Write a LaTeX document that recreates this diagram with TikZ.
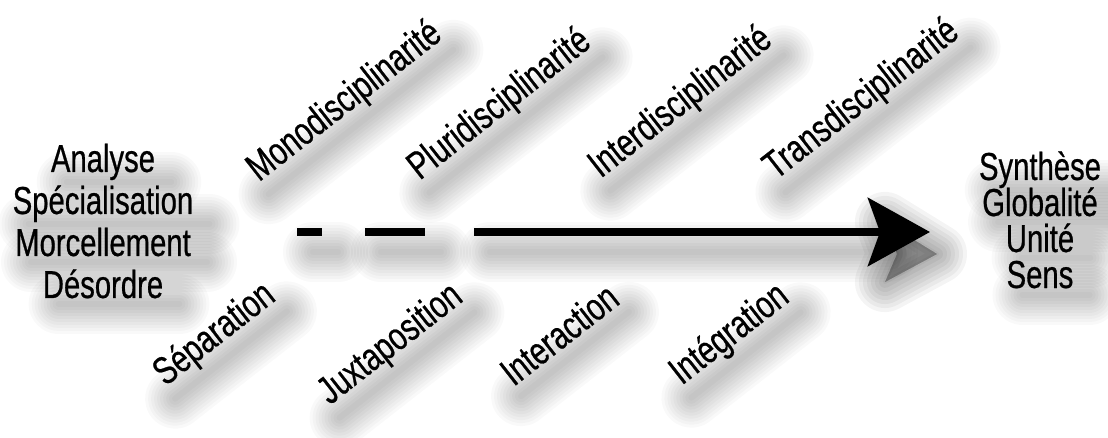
\documentclass[tikz,border=0pt]{standalone}
\usepackage{fontspec}
\setmainfont[FakeStretch=0.75,FakeBold=0.6]{Liberation Sans}
\usetikzlibrary{positioning,arrows.meta,backgrounds}

\tikzset{
  word/.style={inner sep=0pt, font=\fontsize{39}{42}\selectfont},
  tilted/.style={word, rotate=38},
  row/.style={word, anchor=base},
  soft/.style={draw=black, draw opacity=0.022, line cap=round},
  bar/.style={line width=8pt}
}
\newcommand\halo[2]{%
  \foreach \w in {60,54,...,6}
    \draw[soft, line width=\w pt] ([shift={(16,20)}]#1) -- ([shift={(16,20)}]#2);}

\begin{document}
\begin{tikzpicture}[x=1pt,y=-1pt,node distance=42pt,on grid,>={Stealth[length=62pt,width=68pt,inset=12pt]}]
  \useasboundingbox (0,0) rectangle (1108,438);

  \node[row] (ana) at (103,172) {Analyse};
  \node (spe) [below=of ana.base,row] {Spécialisation};
  \node (mor) [below=of spe.base,row] {Morcellement};
  \node (des) [below=of mor.base,row] {Désordre};

  \node[row] (syn) at (1040,180) {Synthèse};
  \node (glo) [below=36pt of syn.base,row] {Globalité};
  \node (uni) [below=36pt of glo.base,row] {Unité};
  \node (sen) [below=36pt of uni.base,row] {Sens};

  \node[tilted] (mono) at (345,102) {Monodisciplinarité};
  \node[tilted] (pluri) at (500,105) {Pluridisciplinarité};
  \node[tilted] (inter) at (681,103) {Interdisciplinarité};
  \node[tilted] (trans) at (862,100) {Transdisciplinarité};

  \node[tilted] (sep) at (215,335) {Séparation};
  \node[tilted] (jux) at (391,345) {Juxtaposition};
  \node[tilted] (act) at (559,334) {Interaction};
  \node[tilted] (integ) at (730,335) {Intégration};

  \coordinate (d1a) at (297,232);
  \coordinate (d1b) at (322,232);
  \coordinate (d2a) at (365,232);
  \coordinate (d2b) at (425,232);
  \coordinate (start) at (474,232);
  \coordinate (neck) at (872,232);
  \coordinate (tip) at (930,232);

  \draw[bar] (d1a) -- (d1b);
  \draw[bar] (d2a) -- (d2b);
  \draw[bar,->] (start) -- (tip);

  \begin{scope}[on background layer]
    \fill[white] (0,0) rectangle (1108,438);
    \foreach \n in {ana,spe,mor,des,syn,glo,uni,sen,mono,pluri,inter,trans,sep,jux,act,integ}
      {\halo{\n.west}{\n.east}}
    \halo{d1a}{d1b}
    \halo{d2a}{d2b}
    \halo{start}{neck}
    \foreach \w in {60,52,...,4}
      \filldraw[soft, draw opacity=0.045, fill=black, fill opacity=0.045, line join=round, line width=\w pt]
        (885,222) -- (937,254) -- (885,282) -- (897,254) -- cycle;
  \end{scope}
\end{tikzpicture}
\end{document}
